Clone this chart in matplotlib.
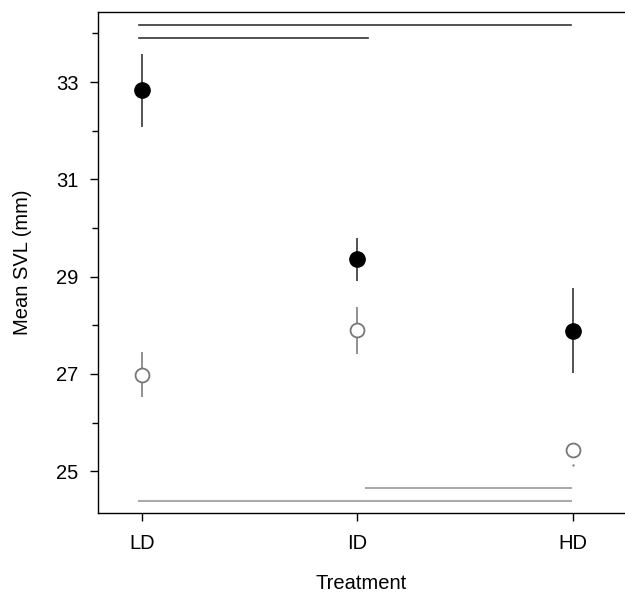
import matplotlib
matplotlib.use("Agg")
import matplotlib.pyplot as plt

plt.rcParams['font.family'] = ['Liberation Sans', 'DejaVu Sans']

categories = ["LD", "ID", "HD"]
x = [1, 2, 3]

filled_mean = [32.83, 29.36, 27.88]
filled_lo = [32.08, 28.90, 27.01]
filled_hi = [33.57, 29.80, 28.76]

open_mean = [26.98, 27.90, 25.43]
open_lo = [26.53, 27.40, 25.43]
open_hi = [27.44, 28.38, 25.43]
hd_dot = 25.13

# significance lines: (x_start, x_end, y)
sig_black = [(0.985, 2.99, 34.18), (0.985, 2.05, 33.91)]
sig_grey = [(0.985, 2.99, 24.38), (2.04, 2.99, 24.66)]

W, H = 625, 593
fig = plt.figure(figsize=(W/100, H/100), dpi=100)
ax = fig.add_axes([98/W, 1-513/H, (W-98)/W, (513-12)/H])

ferr = [[m - l for m, l in zip(filled_mean, filled_lo)], [h - m for m, h in zip(filled_mean, filled_hi)]]
oerr = [[m - l for m, l in zip(open_mean, open_lo)], [h - m for m, h in zip(open_mean, open_hi)]]

ax.errorbar(x, open_mean, yerr=oerr, fmt='o', color='#777777', ecolor='#888888',
            elinewidth=1.3, capsize=0, markersize=10, markerfacecolor='white',
            markeredgecolor='#777777', markeredgewidth=1.3, zorder=3)
ax.plot([x[2]], [hd_dot], marker='.', markersize=1.5, color='#888888', linestyle='none')
ax.errorbar(x, filled_mean, yerr=ferr, fmt='o', color='black', ecolor='#444444',
            elinewidth=1.3, capsize=0, markersize=11, zorder=3)

for x0, x1, y in sig_black:
    ax.plot([x0, x1], [y, y], color='#333333', linewidth=1.2)
for x0, x1, y in sig_grey:
    ax.plot([x0, x1], [y, y], color='#aaaaaa', linewidth=1.5)

ax.set_xlim(0.796, 0.796 + (W-98)/215.5)
ax.set_ylim(24.14, 34.44)
ax.set_xticks(x)
ax.set_xticklabels(categories, fontsize=14.5)
ax.set_yticks([25, 27, 29, 31, 33])
ax.set_yticks([26, 28, 30, 32, 34], minor=True)
ax.tick_params(axis='y', which='major', length=6, width=1, labelsize=14.5, pad=8)
ax.tick_params(axis='y', which='minor', length=4, width=1)
ax.tick_params(axis='x', which='major', length=6, width=1, pad=9)
for s in ax.spines.values():
    s.set_linewidth(1.0)
ax.spines['right'].set_visible(False)
ax.set_xlabel("Treatment", fontsize=14.5, labelpad=15)
ax.set_ylabel("Mean SVL (mm)", fontsize=14.5, labelpad=17)

fig.savefig("out.png", dpi=100)
